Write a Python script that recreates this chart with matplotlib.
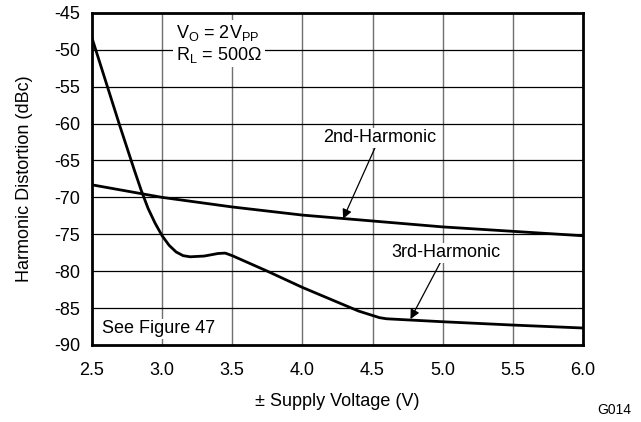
import numpy as np
import matplotlib.pyplot as plt

plt.rcParams['font.family'] = ['Liberation Sans', 'DejaVu Sans']
plt.rcParams['mathtext.fontset'] = 'custom'
plt.rcParams['mathtext.rm'] = 'Liberation Sans'

# supply voltage (V) and distortion (dBc)
v_2nd = [2.5, 3.0, 3.5, 4.0, 4.5, 5.0, 5.5, 6.0]
hd2 = [-68.3, -70.0, -71.3, -72.4, -73.2, -74.0, -74.6, -75.2]

v_3rd = [2.5, 2.6, 2.7, 2.8, 2.85, 2.9, 2.95, 3.0, 3.05, 3.1, 3.15, 3.2, 3.3,
         3.4, 3.45, 3.5, 3.75, 4.0, 4.25, 4.4, 4.5, 4.55, 4.6, 4.7, 5.0, 5.5, 6.0]
hd3 = [-48.4, -54.4, -60.4, -66.2, -69.0, -71.5, -73.5, -75.2, -76.5, -77.4,
       -77.9, -78.05, -77.95, -77.6, -77.55, -77.9, -80.0, -82.2, -84.2, -85.4,
       -86.0, -86.3, -86.45, -86.55, -86.85, -87.3, -87.7]

x_ticks = [2.5, 3.0, 3.5, 4.0, 4.5, 5.0, 5.5, 6.0]
y_ticks = [-90, -85, -80, -75, -70, -65, -60, -55, -50, -45]

fs = 13

fig = plt.figure(figsize=(6.41, 4.22), dpi=100)
ax = fig.add_axes([0.1435, 0.1825, 0.766, 0.787])

ax.plot(v_2nd, hd2, color='black', lw=2.0, zorder=3)
ax.plot(v_3rd, hd3, color='black', lw=2.0, zorder=3)

ax.set_xlim(2.5, 6.0)
ax.set_ylim(-90, -45)
ax.set_xticks(x_ticks)
ax.set_xticklabels([f"{t:.1f}" for t in x_ticks])
ax.set_yticks(y_ticks)
ax.set_yticklabels([str(t) for t in y_ticks])
ax.tick_params(axis='x', length=0, pad=12, labelsize=fs)
ax.tick_params(axis='y', length=0, pad=8.5, labelsize=fs)

for t in x_ticks[1:-1]:
    ax.axvline(t, color='#707070', lw=1.0, zorder=1)
for t in y_ticks[1:-1]:
    ax.axhline(t, color='black', lw=0.9, zorder=1)

for s in ax.spines.values():
    s.set_linewidth(2.0)
    s.set_zorder(5)

ax.set_xlabel("± Supply Voltage (V)", fontsize=fs, labelpad=10)
ax.set_ylabel("Harmonic Distortion (dBc)", fontsize=fs, labelpad=15)

ax.text(3.1, -46.4, "V$_\\mathregular{O}$ = 2V$_\\mathregular{PP}$\nR$_\\mathregular{L}$ = 500Ω",
        fontsize=fs, va='top', ha='left', linespacing=1.1, zorder=4,
        bbox=dict(facecolor='white', edgecolor='none', pad=2))
ax.text(2.57, -88.4, "See Figure 47", fontsize=fs, va='baseline', ha='left', zorder=4,
        bbox=dict(facecolor='white', edgecolor='none', pad=1))

arrow = dict(arrowstyle='-|>', color='black', lw=0.9, mutation_scale=14,
             shrinkA=0, shrinkB=0)
ax.annotate("2nd-Harmonic", xy=(4.29, -72.9), xytext=(4.55, -61.9),
            fontsize=fs, ha='center', va='center', zorder=4,
            bbox=dict(facecolor='white', edgecolor='none', pad=1),
            arrowprops=arrow)
ax.annotate("3rd-Harmonic", xy=(4.77, -86.5), xytext=(5.02, -77.5),
            fontsize=fs, ha='center', va='center', zorder=4,
            bbox=dict(facecolor='white', edgecolor='none', pad=1),
            arrowprops=arrow)

fig.text(0.958, 0.028, "G014", fontsize=10, ha='center', va='center')

fig.savefig("out.png", dpi=100, facecolor='white')
